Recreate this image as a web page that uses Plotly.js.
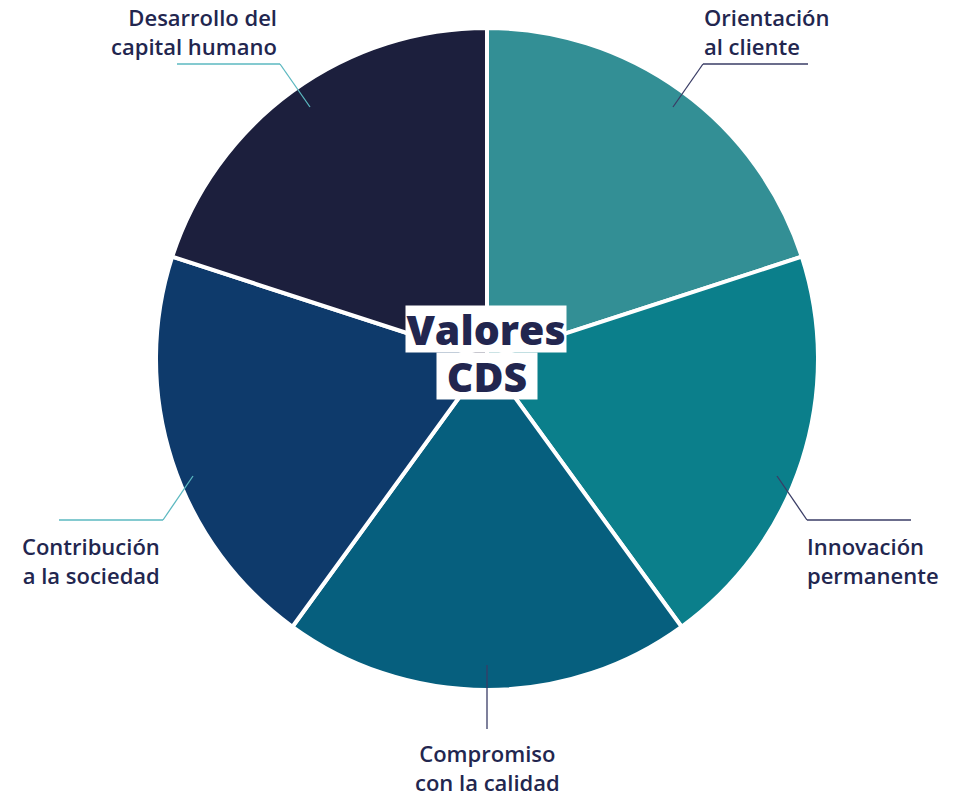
<!DOCTYPE html>
<html><head><meta charset="utf-8">
<script src="https://cdn.plot.ly/plotly-3.0.1.min.js"></script>
<style>html,body{margin:0;padding:0;background:#fff}#chart{width:959px;height:796px}</style>
</head><body><div id="chart"></div>
<script>
const categories = ["Orientación<br>al cliente","Innovación<br>permanente","Compromiso<br>con la calidad","Contribución<br>a la sociedad","Desarrollo del<br>capital humano"];
const values = [1,1,1,1,1];
const colors = ["#338f95","#0b7f8b","#065f7e","#0e3a6b","#1c1f3d"];
const centerTitle = ["Valores","CDS"];

const W=959,H=796,cx=487,cy=359,R=331;
const txt="#22264f", font="Open Sans";

const trace={type:'pie',values:values,labels:categories,sort:false,direction:'clockwise',rotation:0,
  marker:{colors:colors,line:{color:'#ffffff',width:4}},textinfo:'none',hoverinfo:'label',
  domain:{x:[(cx-R)/W,(cx+R)/W],y:[(H-cy-R)/H,(H-cy+R)/H]},showlegend:false};

function px(x){return x/W;} function py(y){return 1-y/H;}
function line(x0,y0,x1,y1,c){return {type:'line',xref:'paper',yref:'paper',x0:px(x0),y0:py(y0),x1:px(x1),y1:py(y1),line:{color:c,width:1.3}};}
const teal="#5bb8c0", navy="#3a3d66";
const shapes=[
  line(177,64,280,64,teal), line(280,64,310,107,teal),
  line(673,107,703,64,navy), line(703,64,808,64,navy),
  line(193,476,163,520,teal), line(163,520,59,520,teal),
  line(777,476,807,520,navy), line(807,520,911,520,navy),
  line(487,665,487,729,navy)
];
function lab(text,x,y,xa,align){return {text:text,xref:'paper',yref:'paper',x:px(x),y:py(y),xanchor:xa,yanchor:'middle',align:align,showarrow:false,font:{family:font,size:22,color:txt,weight:600}};}
const annotations=[
  lab(categories[4],279,32,'right','right'),
  lab(categories[0],702,32,'left','left'),
  lab(categories[3],162,560,'right','right'),
  lab(categories[1],805,560,'left','left'),
  lab(categories[2],487,767,'center','center'),
  {text:centerTitle[0],xref:'paper',yref:'paper',x:px(486),y:py(329),xanchor:'center',yanchor:'middle',showarrow:false,bgcolor:'#ffffff',borderpad:0,
   font:{family:font,size:41,color:txt,weight:800},width:160,height:46},
  {text:centerTitle[1],xref:'paper',yref:'paper',x:px(487),y:py(376),xanchor:'center',yanchor:'middle',showarrow:false,bgcolor:'#ffffff',borderpad:0,
   font:{family:font,size:41,color:txt,weight:800},width:100,height:46}
];
Plotly.newPlot('chart',[trace],{width:W,height:H,margin:{l:0,r:0,t:0,b:0},paper_bgcolor:'#fff',shapes:shapes,annotations:annotations},{displayModeBar:false});
</script></body></html>
